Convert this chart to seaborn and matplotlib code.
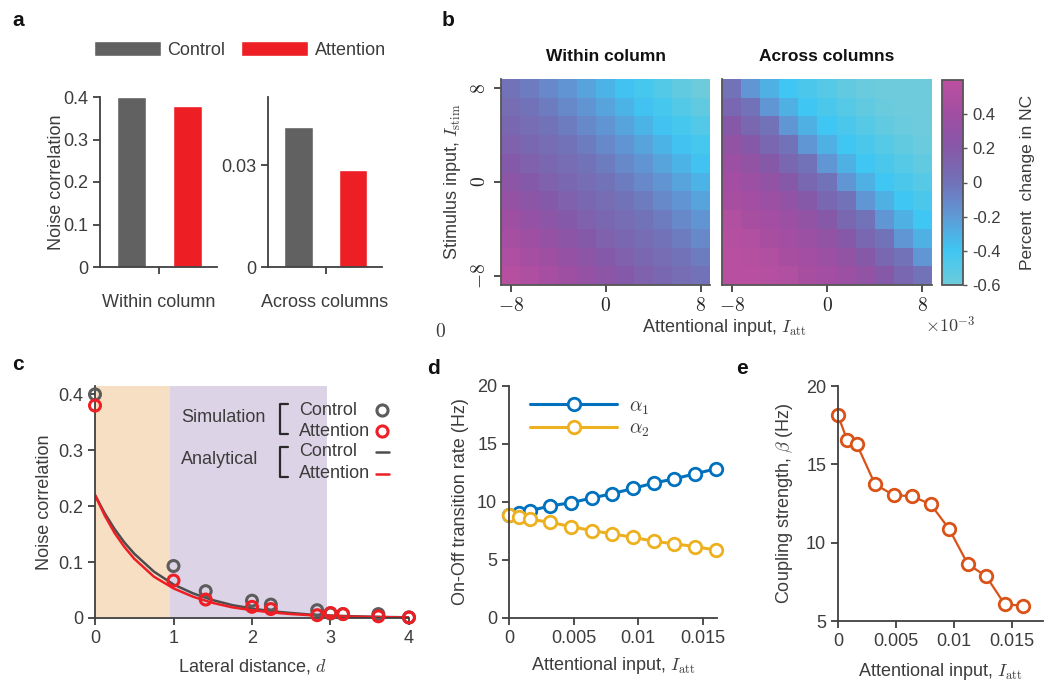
"""
Noise correlation under attention: bar summary, heatmaps of percent change,
lateral-distance decay and fitted transition / coupling rates.
"""

import numpy as np
import pandas as pd
import matplotlib
matplotlib.use('Agg')
import matplotlib.pyplot as plt
import seaborn as sns
from matplotlib.colors import LinearSegmentedColormap
from matplotlib.lines import Line2D
from matplotlib.patches import Patch

# ---------------- data ----------------
# panel a
conditions = ['Control', 'Attention']
nc_within = [0.400, 0.378]
nc_across = [0.0412, 0.0286]

# panel b (rows: I_stim = 8 ... -8 ; cols: I_att = -8 ... 8, x1e-3)
att_tick_labels = ['$-8$', '$0$', '$8$']
stim_tick_labels = ['$8$', '$0$', '$-8$']
nc_change_within = [
    [0.00, -0.05, -0.11, -0.17, -0.24, -0.31, -0.38, -0.43, -0.49, -0.55, -0.60],
    [0.04, 0.00, -0.05, -0.11, -0.17, -0.24, -0.31, -0.38, -0.43, -0.49, -0.55],
    [0.08, 0.04, 0.00, -0.05, -0.11, -0.17, -0.24, -0.31, -0.38, -0.43, -0.49],
    [0.13, 0.08, 0.04, 0.00, -0.05, -0.11, -0.17, -0.24, -0.31, -0.38, -0.43],
    [0.19, 0.13, 0.08, 0.04, 0.00, -0.05, -0.11, -0.17, -0.24, -0.31, -0.38],
    [0.25, 0.19, 0.13, 0.08, 0.04, 0.00, -0.05, -0.11, -0.17, -0.24, -0.31],
    [0.31, 0.25, 0.19, 0.13, 0.08, 0.04, 0.00, -0.05, -0.11, -0.17, -0.24],
    [0.38, 0.31, 0.25, 0.19, 0.13, 0.08, 0.04, 0.00, -0.05, -0.11, -0.17],
    [0.44, 0.38, 0.31, 0.25, 0.19, 0.13, 0.08, 0.04, 0.00, -0.05, -0.11],
    [0.50, 0.44, 0.38, 0.31, 0.25, 0.19, 0.13, 0.08, 0.04, 0.00, -0.05],
    [0.56, 0.50, 0.44, 0.38, 0.31, 0.25, 0.19, 0.13, 0.08, 0.04, 0.00],
]
nc_change_across = [
    [0.00, -0.18, -0.30, -0.40, -0.45, -0.50, -0.55, -0.58, -0.60, -0.60, -0.60],
    [0.08, 0.00, -0.18, -0.30, -0.40, -0.45, -0.50, -0.55, -0.58, -0.60, -0.60],
    [0.20, 0.08, 0.00, -0.18, -0.30, -0.40, -0.45, -0.50, -0.55, -0.58, -0.60],
    [0.30, 0.20, 0.08, 0.00, -0.18, -0.30, -0.40, -0.45, -0.50, -0.55, -0.58],
    [0.36, 0.30, 0.20, 0.08, 0.00, -0.18, -0.30, -0.40, -0.45, -0.50, -0.55],
    [0.42, 0.36, 0.30, 0.20, 0.08, 0.00, -0.18, -0.30, -0.40, -0.45, -0.50],
    [0.45, 0.42, 0.36, 0.30, 0.20, 0.08, 0.00, -0.18, -0.30, -0.40, -0.45],
    [0.52, 0.45, 0.42, 0.36, 0.30, 0.20, 0.08, 0.00, -0.18, -0.30, -0.40],
    [0.55, 0.52, 0.45, 0.42, 0.36, 0.30, 0.20, 0.08, 0.00, -0.18, -0.30],
    [0.57, 0.55, 0.52, 0.45, 0.42, 0.36, 0.30, 0.20, 0.08, 0.00, -0.18],
    [0.58, 0.57, 0.55, 0.52, 0.45, 0.42, 0.36, 0.30, 0.20, 0.08, 0.00],
]
cbar_ticks = [0.4, 0.2, 0.0, -0.2, -0.4, -0.6]
cbar_tick_labels = ['0.4', '0.2', '0', '-0.2', '-0.4', '-0.6']

# panel c
dist_sim = [0, 1, 1.41, 2, 2.24, 2.83, 3, 3.16, 3.61, 4]
nc_sim_control = [0.400, 0.093, 0.048, 0.031, 0.024, 0.014, 0.008, 0.007, 0.007, 0.001]
nc_sim_attention = [0.380, 0.067, 0.033, 0.020, 0.016, 0.005, 0.009, 0.007, 0.003, 0.001]
dist_analytical = [0, 0.125, 0.25, 0.375, 0.5, 0.75, 1, 1.25, 1.5, 1.75, 2, 2.25,
                   2.5, 2.75, 3, 3.25, 3.5, 3.75, 4]
nc_an_control = [0.220, 0.187, 0.159, 0.135, 0.115, 0.083, 0.060, 0.044, 0.032, 0.023,
                 0.017, 0.012, 0.009, 0.006, 0.0045, 0.0032, 0.0024, 0.0017, 0.0012]
nc_an_attention = [0.220, 0.183, 0.152, 0.127, 0.106, 0.074, 0.053, 0.038, 0.027, 0.019,
                   0.014, 0.010, 0.007, 0.005, 0.0035, 0.0025, 0.0018, 0.0013, 0.0009]

# panels d, e
att_input = [0, 0.0008, 0.0016, 0.0032, 0.0048, 0.0064, 0.008, 0.0096, 0.0112, 0.0128, 0.0144, 0.016]
alpha1 = [8.88, 9.03, 9.25, 9.66, 9.94, 10.34, 10.72, 11.17, 11.63, 12.00, 12.43, 12.86]
alpha2 = [8.88, 8.74, 8.51, 8.25, 7.88, 7.54, 7.25, 6.96, 6.62, 6.39, 6.16, 5.85]
beta = [18.13, 16.53, 16.32, 13.72, 13.04, 12.96, 12.45, 10.87, 8.64, 7.85, 6.06, 5.98]

# ---------------- style ----------------
CONTROL = '#616161'
ATTENTION = '#ed1f24'
BLUE = '#0072BD'
YELLOW = '#EDB120'
ORANGE = '#D95319'
GREY_TXT = '#3c3c3c'

sns.set_style('ticks')
plt.rcParams['font.family'] = ['Liberation Sans', 'DejaVu Sans']
plt.rcParams.update({
    'mathtext.fontset': 'cm',
    'axes.edgecolor': '#404040',
    'axes.linewidth': 1.3,
    'xtick.color': '#404040',
    'ytick.color': '#404040',
    'xtick.labelcolor': GREY_TXT,
    'ytick.labelcolor': GREY_TXT,
    'xtick.major.size': 5,
    'ytick.major.size': 5,
    'xtick.major.width': 1.3,
    'ytick.major.width': 1.3,
    'xtick.labelsize': 13,
    'ytick.labelsize': 13,
    'axes.labelsize': 13,
    'axes.labelcolor': GREY_TXT,
    'text.color': GREY_TXT,
})

W, H = 1046, 684
fig = plt.figure(figsize=(W / 100, H / 100), dpi=100)


def rect(x0, y0, x1, y1):
    return [x0 / W, 1 - y1 / H, (x1 - x0) / W, (y1 - y0) / H]


def fpos(x, y):
    return x / W, 1 - y / H


# ---------------- panel a ----------------
ax_aw = fig.add_axes(rect(100, 97, 217, 267))
ax_aa = fig.add_axes(rect(268, 97, 382, 267))
for ax, vals, lab, lim in [(ax_aw, nc_within, 'Within column', 0.4),
                           (ax_aa, nc_across, 'Across columns', 0.05)]:
    df = pd.DataFrame({'condition': conditions, 'nc': vals})
    sns.barplot(data=df, x='condition', y='nc', hue='condition',
                palette=[CONTROL, ATTENTION], width=0.52, saturation=1,
                legend=False, ax=ax)
    ax.set_xlim(-0.56, 1.53)
    ax.set_ylim(0, lim)
    ax.set_xticks([0.5])
    ax.set_xticklabels([''])
    ax.set_xlabel(lab, labelpad=11)
    sns.despine(ax=ax)
ax_aw.set_yticks([0, 0.1, 0.2, 0.3, 0.4])
ax_aw.set_yticklabels(['0', '0.1', '0.2', '0.3', '0.4'])
ax_aw.set_ylabel('Noise correlation', labelpad=-1)
ax_aa.set_yticks([0, 0.03])
ax_aa.set_yticklabels(['0', '0.03'])
ax_aa.set_ylabel('')

handles = [Patch(facecolor=CONTROL), Patch(facecolor=ATTENTION)]
fig.legend(handles, conditions, loc='center left', bbox_to_anchor=fpos(94, 50),
           ncol=2, frameon=False, handlelength=3.7, handleheight=0.9,
           handletextpad=0.35, columnspacing=0.9, borderpad=0, borderaxespad=0,
           fontsize=13)

# ---------------- panel b ----------------
cmap = LinearSegmentedColormap.from_list('nc', [
    (0.0, '#6dcbdb'), (1 / 6, '#3fc6f2'), (2 / 6, '#5e9ad6'), (3 / 6, '#7272b8'),
    (4 / 6, '#8658a8'), (5 / 6, '#a04ea2'), (1.0, '#bc4fa0')])

ax_bw = fig.add_axes(rect(501, 79, 710, 285))
ax_ba = fig.add_axes(rect(722, 79, 932, 285))
cax = fig.add_axes(rect(942, 80, 963, 285))

sns.heatmap(np.array(nc_change_within), ax=ax_bw, cmap=cmap, vmin=-0.6, vmax=0.6,
            cbar=False, xticklabels=False, yticklabels=False)
sns.heatmap(np.array(nc_change_across), ax=ax_ba, cmap=cmap, vmin=-0.6, vmax=0.6,
            cbar_ax=cax, cbar_kws={'ticks': cbar_ticks},
            xticklabels=False, yticklabels=False)

for ax, title in [(ax_bw, 'Within column'), (ax_ba, 'Across columns')]:
    ax.set_title(title, fontsize=12.5, fontweight='bold', color='#111111', pad=13)
    for side in ['left', 'bottom']:
        ax.spines[side].set_visible(True)
        ax.spines[side].set_color('#555555')
        ax.spines[side].set_linewidth(1.3)
    ax.set_xticks([0.5, 5.5, 10.5])
    ax.set_xticklabels(att_tick_labels, fontsize=14, color='#222222')
    ax.tick_params(left=True, bottom=True, length=5, width=1.3, direction='out')
ax_bw.set_yticks([0.5, 5.5, 10.5])
ax_bw.set_yticklabels(stim_tick_labels, rotation=90, va='center', fontsize=14,
                      color='#222222')
ax_bw.set_ylabel(r'Stimulus input, $I_{\rm stim}$', fontsize=13, labelpad=6)
ax_ba.set_yticks([])

cb = ax_ba.collections[0].colorbar
cb.outline.set_linewidth(1.3)
cb.outline.set_edgecolor('#555555')
cb.set_ticks(cbar_ticks)
cb.set_ticklabels(cbar_tick_labels)
cax.tick_params(labelsize=12, length=3, width=1, colors='#555555', labelcolor=GREY_TXT)
cax.set_ylabel('Percent  change in NC', fontsize=12.5, labelpad=14)

fig.text(*fpos(724, 327), r'Attentional input, $I_{\rm att}$', ha='center',
         va='center', fontsize=13)
fig.text(*fpos(950, 326), r'$\times10^{-3}$', ha='center', va='center', fontsize=13)
fig.text(*fpos(440, 332), r'$0$', ha='center', va='center', fontsize=14)

# ---------------- panel c ----------------
ax_c = fig.add_axes(rect(95, 386, 409, 618))
ax_c.axvspan(0, 0.95, color='#f7dfc4', lw=0, zorder=0)
ax_c.axvspan(0.95, 2.95, color='#ddd3e6', lw=0, zorder=0)
sns.lineplot(x=dist_analytical, y=nc_an_control, color='#4d4d4d', lw=1.8, ax=ax_c)
sns.lineplot(x=dist_analytical, y=nc_an_attention, color=ATTENTION, lw=1.8, ax=ax_c)
sns.scatterplot(x=dist_sim, y=nc_sim_control, s=62, facecolors='none',
                edgecolor='#5c5c5c', linewidth=2.2, clip_on=False, zorder=3, ax=ax_c)
sns.scatterplot(x=dist_sim, y=nc_sim_attention, s=62, facecolors='none',
                edgecolor=ATTENTION, linewidth=2.2, clip_on=False, zorder=4, ax=ax_c)
ax_c.set_xlim(0, 4)
ax_c.set_ylim(0, 0.415)
ax_c.set_xticks([0, 1, 2, 3, 4])
ax_c.set_xticklabels(['0', '1', '2', '3', '4'])
ax_c.set_yticks([0, 0.1, 0.2, 0.3, 0.4])
ax_c.set_yticklabels(['0', '0.1', '0.2', '0.3', '0.4'])
ax_c.set_xlabel(r'Lateral distance, $d$', labelpad=7)
ax_c.set_ylabel('Noise correlation', labelpad=4)
sns.despine(ax=ax_c)

# hand-made legend for panel c
fig.text(*fpos(181, 417), 'Simulation', ha='left', va='center', fontsize=13)
fig.text(*fpos(181, 459), 'Analytical', ha='left', va='center', fontsize=13)
for y, lab in [(410, 'Control'), (431, 'Attention'), (452, 'Control'), (474, 'Attention')]:
    fig.text(*fpos(299, y), lab, ha='left', va='center', fontsize=13)
for top, bot in [(404, 434), (447, 477)]:
    xs = [288 / W, 280 / W, 280 / W, 288 / W]
    ys = [1 - top / H, 1 - top / H, 1 - bot / H, 1 - bot / H]
    fig.add_artist(Line2D(xs, ys, color='#2a2a2a', lw=1.6, transform=fig.transFigure))
fig.add_artist(Line2D([382 / W], [1 - 410 / H], marker='o', ms=8, mfc='none',
                      mec='#5c5c5c', mew=2.2, transform=fig.transFigure))
fig.add_artist(Line2D([382 / W], [1 - 431 / H], marker='o', ms=8, mfc='none',
                      mec=ATTENTION, mew=2.2, transform=fig.transFigure))
fig.add_artist(Line2D([376 / W, 389 / W], [1 - 452 / H] * 2, color='#4d4d4d', lw=1.8,
                      transform=fig.transFigure))
fig.add_artist(Line2D([376 / W, 389 / W], [1 - 474 / H] * 2, color=ATTENTION, lw=1.8,
                      transform=fig.transFigure))

# ---------------- panel d ----------------
ax_d = fig.add_axes(rect(509, 386, 717, 618))
for vals, col, lab in [(alpha1, BLUE, r'$\alpha_1$'), (alpha2, YELLOW, r'$\alpha_2$')]:
    sns.lineplot(x=att_input, y=vals, color=col, lw=2.2, marker='o', ms=9,
                 markerfacecolor='white', markeredgecolor=col, markeredgewidth=2,
                 label=lab, clip_on=False, ax=ax_d)
ax_d.set_xlim(0, 0.0161)
ax_d.set_ylim(0, 20)
ax_d.set_xticks([0, 0.005, 0.01, 0.015])
ax_d.set_xticklabels(['0', '0.005', '0.01', '0.015'])
ax_d.set_yticks([0, 5, 10, 15, 20])
ax_d.set_yticklabels(['0', '5', '10', '15', '20'])
ax_d.set_xlabel(r'Attentional input, $I_{\rm att}$', labelpad=6)
ax_d.set_ylabel('On-Off transition rate (Hz)', labelpad=6)
ax_d.legend(loc='upper left', bbox_to_anchor=(0.1, 0.95), frameon=False,
            handlelength=4.5, handletextpad=0.6, labelspacing=0.2, borderpad=0,
            borderaxespad=0, fontsize=14)
sns.despine(ax=ax_d)

# ---------------- panel e ----------------
ax_e = fig.add_axes(rect(838, 386, 1043, 621))
sns.lineplot(x=att_input, y=beta, color=ORANGE, lw=1.6, marker='o', ms=9,
             markerfacecolor='white', markeredgecolor=ORANGE, markeredgewidth=2,
             clip_on=False, ax=ax_e)
ax_e.set_xlim(0, 0.0177)
ax_e.set_ylim(5, 20)
ax_e.set_xticks([0, 0.005, 0.01, 0.015])
ax_e.set_xticklabels(['0', '0.005', '0.01', '0.015'])
ax_e.set_yticks([5, 10, 15, 20])
ax_e.set_yticklabels(['5', '10', '15', '20'])
ax_e.set_xlabel(r'Attentional input, $I_{\rm att}$', labelpad=8)
ax_e.set_ylabel(r'Coupling strength, $\beta$ (Hz)', labelpad=8)
sns.despine(ax=ax_e)

# ---------------- panel letters ----------------
for letter, (x, y) in zip('abcde', [(18, 21), (448, 21), (18, 364), (434, 368), (742, 368)]):
    fig.text(*fpos(x, y), letter, ha='center', va='center', fontsize=15,
             fontweight='bold', color='#111111')

fig.savefig('out.png', dpi=100)
